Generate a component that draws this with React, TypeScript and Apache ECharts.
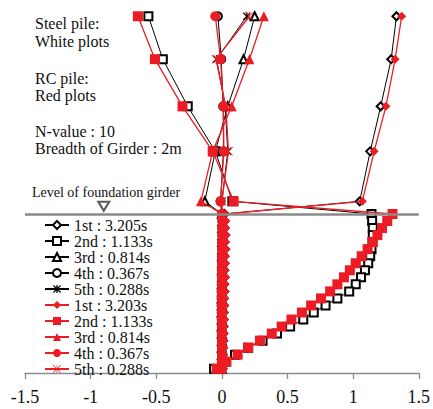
import React, { useEffect, useRef } from "react";
import * as echarts from "echarts";

// Elevation of each node (m): superstructure levels, foundation girder (0), pile nodes below
const levels = [
  28.1, 22.0, 15.3, 8.9, 1.8,
  0, -1, -2, -3, -4, -5, -6, -7, -8, -9, -10, -11,
  -12, -13, -14, -15, -16, -17, -18, -19, -20, -21, -22,
];

// Mode shapes, steel pile (white plots)
const steelMode1 = [
  1.33, 1.29, 1.21, 1.13, 1.05,
  0.02, 0.02, 0.02, 0.025, 0.02, 0.025, 0.02, 0.02, 0.018, 0.02, 0.017, 0.018,
  0.015, 0.016, 0.013, 0.013, 0.012, 0.01, 0.01, 0.008, 0.007, 0.006, 0.005,
];
const steelMode2 = [
  -0.56, -0.45, -0.26, -0.05, 0.08,
  1.14, 1.145, 1.15, 1.15, 1.148, 1.14, 1.13, 1.115, 1.09, 1.06, 1.02, 0.97,
  0.88, 0.79, 0.7, 0.62, 0.52, 0.42, 0.31, 0.2, 0.1, 0.02, -0.06,
];
const steelMode3 = [
  0.25, 0.165, 0.045, -0.05, -0.13,
  0.0, 0.004, 0.003, 0.004, 0.002, 0.003, 0.001, 0.002, 0.0, 0.001, -0.001, 0.0,
  -0.002, -0.001, -0.002, -0.001, -0.002, -0.001, 0.0, -0.001, 0.0, 0.0, 0.0,
];
const steelMode4 = [
  -0.03, -0.005, 0.01, 0.012, -0.01,
  0.0, 0.003, 0.002, 0.003, 0.001, 0.002, 0.0, 0.001, -0.001, 0.0, -0.001, -0.002,
  -0.001, -0.002, -0.001, -0.001, 0.0, -0.001, 0.0, 0.0, 0.001, 0.0, 0.0,
];
const steelMode5 = [
  0.19, -0.04, 0.025, 0.045, 0.0,
  0.0, 0.002, 0.003, 0.001, 0.002, 0.0, 0.001, -0.001, 0.0, -0.002, -0.001, 0.0,
  -0.001, 0.0, -0.001, 0.0, 0.001, 0.0, 0.0, 0.001, 0.0, 0.0, 0.0,
];

// Mode shapes, RC pile (red plots)
const rcMode1 = [
  1.37, 1.32, 1.25, 1.16, 1.07,
  0.02, 0.03, 0.028, 0.032, 0.027, 0.03, 0.026, 0.028, 0.024, 0.027, 0.022, 0.025,
  0.02, 0.022, 0.018, 0.02, 0.016, 0.017, 0.014, 0.014, 0.012, 0.011, 0.009,
];
const rcMode2 = [
  -0.64, -0.51, -0.3, -0.07, 0.09,
  1.3, 1.26, 1.22, 1.185, 1.148, 1.11, 1.065, 1.02, 0.975, 0.93, 0.88, 0.825,
  0.755, 0.68, 0.61, 0.53, 0.455, 0.38, 0.29, 0.2, 0.12, 0.035, -0.04,
];
const rcMode3 = [
  0.32, 0.21, 0.075, -0.07, -0.16,
  0.0, 0.005, 0.004, 0.005, 0.003, 0.004, 0.002, 0.003, 0.001, 0.002, 0.0, 0.001,
  -0.001, 0.0, -0.002, -0.001, -0.002, -0.001, -0.001, 0.0, 0.0, 0.0, 0.0,
];
const rcMode4 = [
  -0.05, -0.01, 0.012, 0.015, -0.01,
  0.0, 0.004, 0.003, 0.003, 0.002, 0.002, 0.001, 0.001, 0.0, 0.0, -0.001, -0.001,
  -0.002, -0.001, -0.001, -0.001, 0.0, 0.0, 0.0, 0.0, 0.001, 0.0, 0.0,
];
const rcMode5 = [
  0.21, -0.045, 0.03, 0.05, 0.0,
  0.0, 0.003, 0.002, 0.002, 0.001, 0.001, 0.0, 0.0, -0.001, -0.001, -0.002, -0.001,
  -0.001, 0.0, 0.0, -0.001, 0.0, 0.001, 0.0, 0.0, 0.0, 0.0, 0.0,
];

const steelNames = ["1st : 3.205s", "2nd : 1.133s", "3rd : 0.814s", "4th : 0.367s", "5th : 0.288s"];
const rcNames = ["1st : 3.203s", "2nd : 1.133s", "3rd : 0.814s", "4th : 0.367s", "5th : 0.288s"];

const xMin = -1.5;
const xMax = 1.5;
const xStep = 0.5;
const yMin = -22.6;
const yMax = 29.7;

// Girder level marker position (value coordinates)
const girderMark = [-0.9, 1.1];

const RED = "#ed1c24";
const FONT = "Liberation Serif";
const INK = "#111";

const ASTERISK_BOLD =
  "path://M4.2 0H5.8V10H4.2Z M1.1 0L10 8.9L8.9 10L0 1.1Z M8.9 0L10 1.1L1.1 10L0 8.9Z";
const ASTERISK_THIN =
  "path://M4.6 0H5.4V10H4.6Z M0.6 0L10 9.4L9.4 10L0 0.6Z M9.4 0L10 0.6L0.6 10L0 9.4Z";

const note = (text: string, x: number, y: number, size = 16) => ({
  type: "text",
  x,
  y,
  style: { text, fontFamily: FONT, fontSize: size, fill: INK, verticalAlign: "middle" },
});

export default function App() {
  const ref = useRef<HTMLDivElement>(null);

  useEffect(() => {
    if (!ref.current) return;
    const chart = echarts.init(ref.current, undefined, { renderer: "svg" });

    const steelModes = [steelMode1, steelMode2, steelMode3, steelMode4, steelMode5];
    const rcModes = [rcMode1, rcMode2, rcMode3, rcMode4, rcMode5];
    const steelSymbols = ["emptyDiamond", "emptyRect", "emptyTriangle", "emptyCircle", ASTERISK_BOLD];
    const rcSymbols = ["diamond", "rect", "triangle", "circle", ASTERISK_THIN];
    const rcSizes = [9, 10, 10, 10, 9];

    const pairs = (vals: number[]) => vals.map((v, i) => [v, levels[i]]);

    const steelSeries = steelModes.map((vals, k) => ({
      type: "line",
      name: "s|" + steelNames[k],
      data: pairs(vals),
      symbol: steelSymbols[k],
      symbolSize: 8,
      showAllSymbol: true,
      lineStyle: { color: "#000", width: 1 },
      itemStyle: {
        color: "#000",
        borderColor: "#000",
        borderWidth: k === 4 ? 0 : 1,
      },
      z: 3,
    }));

    const rcSeries = rcModes.map((vals, k) => ({
      type: "line",
      name: "r|" + rcNames[k],
      data: pairs(vals),
      symbol: rcSymbols[k],
      symbolSize: rcSizes[k],
      showAllSymbol: true,
      lineStyle: { color: RED, width: 1.3 },
      itemStyle: { color: RED, borderWidth: 0 },
      z: 4,
    }));

    const option: any = {
      animation: false,
      backgroundColor: "#fff",
      grid: { left: 25, right: 11, top: 5, bottom: 36, containLabel: false },
      xAxis: {
        type: "value",
        min: xMin,
        max: xMax,
        interval: xStep,
        splitLine: { show: false },
        axisLine: { onZero: false, lineStyle: { color: "#8c8c8c", width: 1.3 } },
        axisTick: { show: true, length: 6, inside: false, lineStyle: { color: "#8c8c8c", width: 1.3 } },
        axisLabel: { fontFamily: FONT, fontSize: 18, color: INK, margin: 15 },
      },
      yAxis: {
        type: "value",
        min: yMin,
        max: yMax,
        show: false,
        splitLine: { show: false },
      },
      legend: {
        data: [...steelSeries.map((s) => s.name), ...rcSeries.map((s) => s.name)],
        orient: "vertical",
        left: 44,
        top: 217,
        padding: 0,
        itemWidth: 24,
        itemHeight: 10,
        itemGap: 0,
        selectedMode: false,
        formatter: (n: string) => n.split("|")[1],
        textStyle: { fontFamily: FONT, fontSize: 16, color: INK, lineHeight: 15.2 },
      },
      graphic: [
        note("Steel pile:", 35, 23),
        note("White plots", 35, 41),
        note("RC pile:", 35, 78),
        note("Red plots", 35, 95),
        note("N-value : 10", 35, 131),
        note("Breadth of Girder : 2m", 35, 148),
        note("Level of foundation girder", 32, 192, 14),
      ],
      series: [
        {
          type: "scatter",
          name: "girder",
          data: [girderMark],
          symbol: "emptyTriangle",
          symbolRotate: 180,
          symbolSize: [11, 9],
          itemStyle: { color: "#333", borderColor: "#333", borderWidth: 1 },
          z: 2,
          markLine: {
            silent: true,
            symbol: "none",
            label: { show: false },
            lineStyle: { color: "#8a8a8a", width: 2.5, type: "solid" },
            data: [{ yAxis: 0 }],
          },
        },
        ...steelSeries,
        ...rcSeries,
      ],
    };

    chart.setOption(option);
    return () => chart.dispose();
  }, []);

  return (
    <div
      ref={ref}
      style={{ position: "absolute", left: 0, top: 0, width: 433, height: 409, background: "#fff" }}
    />
  );
}
